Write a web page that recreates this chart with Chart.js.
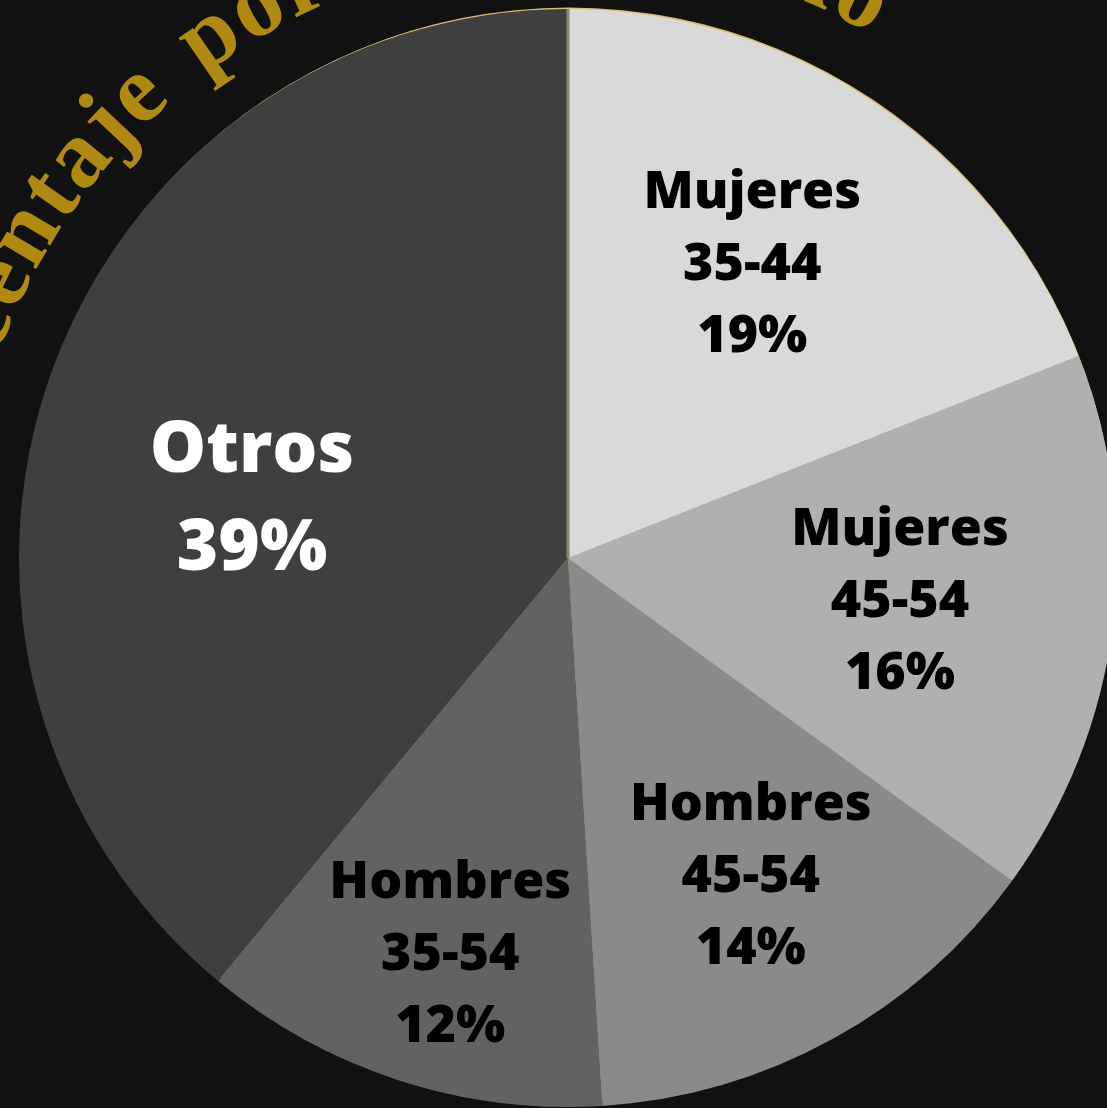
<!DOCTYPE html>
<html lang="es">
<head>
<meta charset="utf-8">
<title>Porcentaje por edad y sexo</title>
<script src="https://cdn.jsdelivr.net/npm/chart.js@4.4.1/dist/chart.umd.min.js"></script>
<style>
  html, body {
    margin: 0;
    padding: 0;
    width: 1107px;
    height: 1108px;
    overflow: hidden;
    background: #111111;
  }
  #wrap {
    position: absolute;
    left: 0;
    top: 0;
    width: 1130px;
    height: 1108px;
  }
</style>
</head>
<body>
<div id="wrap"><canvas id="pie-chart" width="1130" height="1108"></canvas></div>
<script>
// data
const titleText = "Porcentaje por edad y sexo";
const groups = ["Mujeres", "Mujeres", "Hombres", "Hombres", "Otros"];
const ageRanges = ["35-44", "45-54", "45-54", "35-54", ""];
const percentages = [19, 16, 14, 12, 39];
const sliceColors = ["#d9d9d9", "#b0b0b0", "#8a8a8a", "#626262", "#3f3f3f"];
const labelColors = ["#000000", "#000000", "#000000", "#000000", "#ffffff"];

const categories = groups.map((g, i) => (ageRanges[i] ? g + " " + ageRanges[i] : g));

document.addEventListener("DOMContentLoaded", () => {
  const canvas = document.getElementById("pie-chart");

  // gold crescent peeking behind the pie (top right), plus the seam at 12 o'clock
  const goldEdge = {
    id: "goldEdge",
    beforeDatasetsDraw(chart) {
      const arc = chart.getDatasetMeta(0).data[0];
      const ctx = chart.ctx;
      ctx.save();
      ctx.fillStyle = "#dcbb70";
      ctx.beginPath();
      ctx.arc(arc.x + 1, arc.y - 3, arc.outerRadius - 1.5, 0, Math.PI * 2);
      ctx.fill();
      ctx.restore();
    },
    afterDatasetsDraw(chart) {
      const arc = chart.getDatasetMeta(0).data[0];
      const ctx = chart.ctx;
      ctx.save();
      ctx.strokeStyle = "#8c8570";
      ctx.lineWidth = 3;
      ctx.beginPath();
      ctx.moveTo(arc.x, arc.y);
      ctx.lineTo(arc.x + arc.outerRadius * Math.cos(arc.startAngle),
                 arc.y + arc.outerRadius * Math.sin(arc.startAngle));
      ctx.stroke();
      ctx.restore();
    },
  };

  // title written along a circle around the pie
  const curvedTitle = {
    id: "curvedTitle",
    beforeDatasetsDraw(chart, args, opts) {
      const arc = chart.getDatasetMeta(0).data[0];
      const ctx = chart.ctx;
      const r = arc.outerRadius + opts.offset;
      ctx.save();
      ctx.font = opts.font;
      ctx.fillStyle = opts.color;
      ctx.textAlign = "center";
      ctx.textBaseline = "alphabetic";
      let a = opts.startAngle * Math.PI / 180;
      for (const ch of opts.text) {
        const extra = opts.tracking + (ch === " " ? opts.wordSpacing : 0);
        const half = (ctx.measureText(ch).width + extra) / 2 / r;
        a += half;
        ctx.save();
        ctx.translate(arc.x + r * Math.sin(a), arc.y - r * Math.cos(a));
        ctx.rotate(a);
        ctx.fillText(ch, 0, 0);
        ctx.restore();
        a += half;
      }
      ctx.restore();
    },
  };

  // multi-line labels inside the slices
  const sliceLabels = {
    id: "sliceLabels",
    afterDatasetsDraw(chart, args, opts) {
      const ctx = chart.ctx;
      const meta = chart.getDatasetMeta(0);
      meta.data.forEach((arc, i) => {
        const place = opts.placement[i];
        const mid = (arc.startAngle + arc.endAngle) / 2 + place.shift * Math.PI / 180;
        const cx = arc.x + Math.cos(mid) * arc.outerRadius * place.dist;
        const cy = arc.y + Math.sin(mid) * arc.outerRadius * place.dist;
        const lines = [groups[i]];
        if (ageRanges[i]) lines.push(ageRanges[i]);
        lines.push(percentages[i] + "%");
        ctx.save();
        ctx.font = "800 " + place.size + "px 'Open Sans'";
        ctx.fillStyle = labelColors[i];
        ctx.textAlign = "center";
        ctx.textBaseline = "middle";
        const start = cy - (lines.length - 1) * place.lineHeight / 2;
        lines.forEach((line, k) => {
          ctx.fillText(line, cx, start + k * place.lineHeight);
        });
        ctx.restore();
      });
    },
  };

  new Chart(canvas, {
    type: "pie",
    data: {
      labels: categories,
      datasets: [
        {
          data: percentages,
          backgroundColor: sliceColors,
          borderWidth: 0,
          hoverOffset: 0,
        },
      ],
    },
    options: {
      responsive: false,
      animation: false,
      devicePixelRatio: 1,
      radius: 549,
      layout: {
        padding: { left: 19, right: 13, top: 9, bottom: 1 },
      },
      plugins: {
        legend: { display: false },
        tooltip: { enabled: false },
        curvedTitle: {
          text: titleText,
          font: "bold 96px 'Liberation Serif'",
          color: "#b08912",
          offset: 56,
          startAngle: -85.5,
          tracking: 3,
          wordSpacing: 10,
        },
        sliceLabels: {
          placement: [
            { dist: 0.63, shift: -2, size: 52, lineHeight: 72 },
            { dist: 0.61, shift: 0.3, size: 52, lineHeight: 72 },
            { dist: 0.67, shift: -1, size: 52, lineHeight: 72 },
            { dist: 0.755, shift: -1.5, size: 52, lineHeight: 72 },
            { dist: 0.585, shift: -9.5, size: 71, lineHeight: 98 },
          ],
        },
      },
    },
    plugins: [curvedTitle, goldEdge, sliceLabels],
  });
});
</script>
</body>
</html>
